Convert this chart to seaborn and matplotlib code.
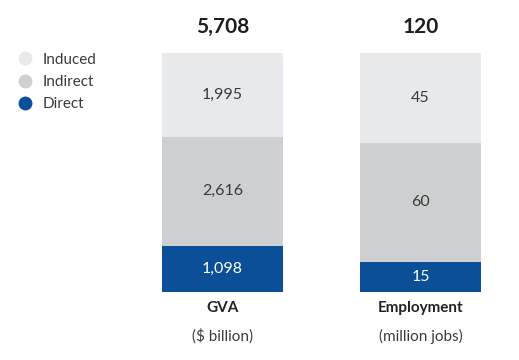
import numpy as np
import pandas as pd
import matplotlib
matplotlib.use("Agg")
import matplotlib.pyplot as plt
from matplotlib.lines import Line2D
import seaborn as sns

# data
categories = ["GVA", "Employment"]
units = ["($ billion)", "(million jobs)"]
direct = [1098, 15]
indirect = [2616, 60]
induced = [1995, 45]
totals = ["5,708", "120"]

c_direct = "#0b4f99"
c_indirect = "#cdcfd1"
c_induced = "#e8e9eb"
c_text = "#3a3a3a"

sns.set_theme(style="white")
plt.rcParams["font.family"] = ["Lato", "DejaVu Sans"]

df = pd.DataFrame({"cat": categories, "direct": direct,
                   "indirect": indirect, "induced": induced})
tot = df[["direct", "indirect", "induced"]].sum(axis=1)
df["p_direct"] = df["direct"] / tot
df["p_indirect"] = df["indirect"] / tot
df["p_induced"] = df["induced"] / tot
df["cum1"] = df["p_direct"]
df["cum2"] = df["p_direct"] + df["p_indirect"]
df["cum3"] = df["cum2"] + df["p_induced"]

fig = plt.figure(figsize=(5.19, 3.6), dpi=100)
ax = fig.add_axes([162 / 519, 1 - 292 / 360, (481 - 162) / 519, (292 - 53) / 360])

w = 121 / 198
for col, color in [("cum3", c_induced), ("cum2", c_indirect), ("cum1", c_direct)]:
    sns.barplot(data=df, x="cat", y=col, color=color, width=w,
                linewidth=0, saturation=1, ax=ax)

ax.set_xlim(-w / 2, 1 + w / 2)
ax.set_ylim(0, 1)
ax.set_axis_off()

fmt = lambda v: f"{v:,}"
for i in range(len(df)):
    r = df.iloc[i]
    ax.text(i, r["cum1"] / 2, fmt(direct[i]), ha="center", va="center",
            color="white", fontsize=11.5)
    ax.text(i, (r["cum1"] + r["cum2"]) / 2, fmt(indirect[i]), ha="center",
            va="center", color=c_text, fontsize=11.5)
    ax.text(i, (r["cum2"] + r["cum3"]) / 2, fmt(induced[i]), ha="center",
            va="center", color=c_text, fontsize=11.5)
    ax.text(i, 1.11, totals[i], ha="center", va="center", color="#1e1e1e",
            fontsize=15, fontweight="bold", clip_on=False)
    ax.text(i, -0.068, categories[i], ha="center", va="center", color="#222222",
            fontsize=11, fontweight="bold", clip_on=False)
    ax.text(i, -0.185, units[i], ha="center", va="center", color=c_text,
            fontsize=11, clip_on=False)

handles = [Line2D([], [], marker="o", linestyle="", markersize=10,
                  markerfacecolor=c, markeredgewidth=0)
           for c in [c_induced, c_indirect, c_direct]]
fig.legend(handles, ["Induced", "Indirect", "Direct"], loc="upper left",
           bbox_to_anchor=(8 / 519, 1 - 45 / 360), frameon=False, fontsize=11,
           handletextpad=0.55, labelspacing=0.55, borderpad=0, handlelength=1.2,
           labelcolor=c_text)

fig.savefig("out.png", dpi=100, facecolor="white")
